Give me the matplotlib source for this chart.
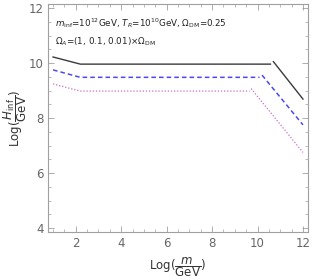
import matplotlib
matplotlib.use("Agg")
import matplotlib.pyplot as plt
from matplotlib.ticker import MultipleLocator

# Data
black_flat_x = [1.0, 2.2, 10.57]
black_flat_y = [10.22, 9.96, 9.96]
black_drop_x = [10.7, 12.0]
black_drop_y = [10.05, 8.69]

blue_flat_x = [1.0, 2.2, 10.09]
blue_flat_y = [9.75, 9.48, 9.48]
blue_drop_x = [10.2, 12.0]
blue_drop_y = [9.56, 7.75]

pink_flat_x = [1.0, 2.2, 9.65]
pink_flat_y = [9.24, 8.98, 8.98]
pink_drop_x = [9.72, 12.0]
pink_drop_y = [9.07, 6.75]

xticks = [2, 4, 6, 8, 10, 12]
yticks = [4, 6, 8, 10, 12]

fig = plt.figure(figsize=(3.12, 2.80), dpi=100)
ax = fig.add_axes([0.154, 0.170, 0.833, 0.817])

c_black = '#3a3a3a'
c_blue = '#4a4af0'
c_pink = '#c86ec8'

ax.plot(black_flat_x, black_flat_y, color=c_black, lw=1.0)
ax.plot(black_drop_x, black_drop_y, color=c_black, lw=1.0)
ax.plot(blue_flat_x, blue_flat_y, color=c_blue, lw=1.1, dashes=(3, 2))
ax.plot(blue_drop_x, blue_drop_y, color=c_blue, lw=1.1, dashes=(3, 2))
ax.plot(pink_flat_x, pink_flat_y, color=c_pink, lw=0.9, dashes=(1, 1.5))
ax.plot(pink_drop_x, pink_drop_y, color=c_pink, lw=0.9, dashes=(1, 1.5))

ax.set_xlim(0.78, 12.22)
ax.set_ylim(3.84, 12.16)
ax.set_xticks(xticks)
ax.set_yticks(yticks)
ax.xaxis.set_minor_locator(MultipleLocator(0.5))
ax.yaxis.set_minor_locator(MultipleLocator(0.5))

gray = '#a0a0a0'
for s in ax.spines.values():
    s.set_color(gray)
    s.set_linewidth(0.8)
ax.tick_params(which='both', direction='in', top=True, right=True, color=gray,
               labelcolor='#666666', labelsize=8.5)
ax.tick_params(which='major', length=4, width=0.6, pad=3)
ax.tick_params(which='minor', length=2, width=0.5)

ax.text(0.025, 0.915, r'$m_{\rm inf}$=10$^{12}$GeV, $T_R$=10$^{10}$GeV, $\Omega_{\rm DM}$=0.25',
        transform=ax.transAxes, fontsize=6.3, color='#222222', va='center', ha='left')
ax.text(0.025, 0.832, r'$\Omega_A$=(1, 0.1, 0.01)$\times\Omega_{\rm DM}$',
        transform=ax.transAxes, fontsize=6.3, color='#222222', va='center', ha='left')

ax.set_xlabel(r'$\mathrm{Log}(\dfrac{m}{\mathrm{GeV}})$', fontsize=8.5, color='#333333', labelpad=4)
ax.set_ylabel(r'$\mathrm{Log}(\dfrac{H_{\rm inf}}{\mathrm{GeV}})$', fontsize=8.5, color='#333333', labelpad=0)

fig.savefig('out.png', dpi=100)
